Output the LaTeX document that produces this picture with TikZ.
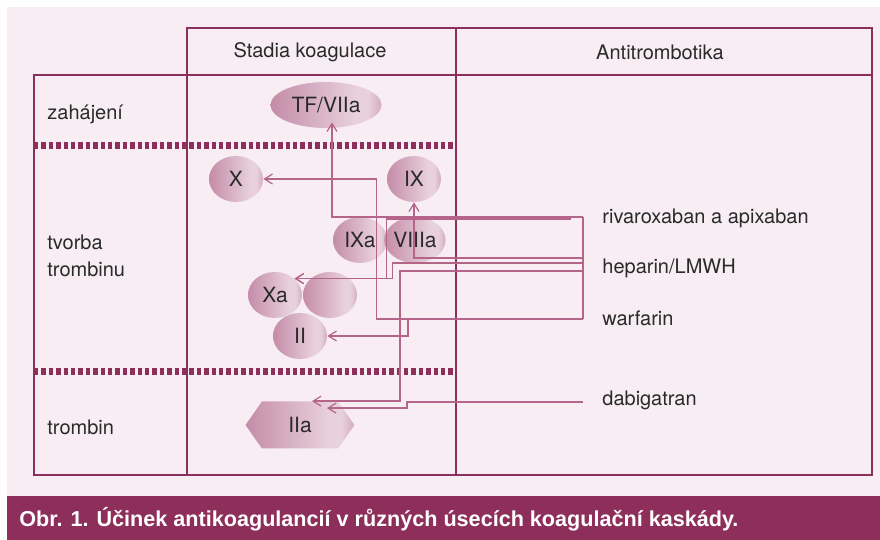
\documentclass[tikz,border=0pt]{standalone}
\usepackage{fontspec}
\setmainfont{TeX Gyre Heros}
\newfontfamily\capfont{Liberation Sans}
\usepackage{xcolor}
\usetikzlibrary{calc,shapes,positioning,arrows.meta}

\definecolor{panel}{HTML}{F7EDF3}
\definecolor{bar}{HTML}{8E2E5B}
\definecolor{frame}{HTML}{8B2F5C}
\definecolor{connc}{HTML}{B5658A}
\definecolor{ink}{HTML}{2A2A2A}
\definecolor{fdark}{HTML}{C48CA8}
\definecolor{flight}{HTML}{E8D0DC}
\definecolor{fedge}{HTML}{D4ABBF}
\pgfdeclarehorizontalshading{facshade}{100bp}{color(0bp)=(fdark); color(25bp)=(fdark); color(63bp)=(flight); color(69bp)=(flight); color(75bp)=(fedge); color(100bp)=(fedge)}

\tikzset{
  fac/.style={ellipse, shading=facshade, minimum width=27pt, minimum height=23pt, inner sep=0pt, text=ink, font=\fontsize{10.5}{12}\selectfont},
  lbl/.style={text=ink, font=\fontsize{10}{13.5}\selectfont, inner sep=0pt},
  grid/.style={draw=frame, line width=0.65pt},
  sep/.style={draw=bar, line width=3.5pt, dash pattern=on 2.2pt off 1.5pt},
  conn/.style={draw=connc, line width=0.6pt},
  arr/.style={conn, -{Straight Barb[length=4pt,width=5pt]}}
}

\begin{document}
\begin{tikzpicture}[x=0.5pt,y=-0.5pt]
\useasboundingbox (0,0) rectangle (880,540);
% background and caption bar
\fill[white] (0,0) rectangle (880,540);
\fill[panel] (7,7) rectangle (880,496);
\fill[bar] (7,496) rectangle (880,540);
\node[anchor=west, text=white, inner sep=0pt, font=\capfont\bfseries\fontsize{10.8}{13}\selectfont] (cap) at (19,519) {Obr. 1. Účinek antikoagulancií v různých úsecích koagulační kaskády.};

% table
\draw[grid] (187,475) -- (187,28) -- (872,28) -- (872,475) -- (34,475) -- (34,75) -- (872,75);
\draw[grid] (456,28) -- (456,475);
\draw[sep] (34,146) -- (456,146);
\draw[sep] (34,372) -- (456,372);

\node[lbl] (hstad) at (310,52) {Stadia koagulace};
\node[lbl] (hanti) at (660,52) {Antitrombotika};
\node[lbl, anchor=west] (rzah) at (47,114) {zahájení};
\node[lbl, anchor=west, align=left] (rtvo) at (47,256) {tvorba\\trombinu};
\node[lbl, anchor=west] (rtro) at (47,427) {trombin};

% factors
\node[fac, minimum width=55.5pt] (tf) at (326,105) {TF/VIIa};
\node[fac] (x) at (236,179) {X};
\node[fac] (ix) at (414,179) {IX};
\node[fac] (ixa) at (360,240) {IXa};
\node[fac] (viiia) at (415,240) {VIIIa};
\node[fac] (blank) at (330,295) {};
\node[fac] (xa) at (275,295) {Xa};
\node[fac] (ii) at (300,336) {II};
\node[fac, signal, signal to=west and east, signal pointer angle=110, minimum width=54.5pt, minimum height=23.5pt] (iia) at (300,425) {IIa};

% drugs
\node[lbl, anchor=west] (riva) at (602,218) {rivaroxaban a apixaban};
\node[lbl, anchor=west] (hep) at (602,268) {heparin/LMWH};
\node[lbl, anchor=west] (warf) at (602,318) {warfarin};
\node[lbl, anchor=west] (dab) at (602,400) {dabigatran};

\coordinate (wA) at (583,217);
\coordinate (wB) at (583,258);
\coordinate (wD) at (583,319);
\coordinate (wII) at (408,319);
\coordinate (rA) at (571,219);
\coordinate (hA) at (583,263);
\coordinate (hB) at (583,271);
\coordinate (dA) at (583,402);

% warfarin
\draw[conn] (wA) -- (wD);
\draw[arr] (wA) -| ($(tf.south)+(6,-6)$);
\draw[arr] (wB) -| (ix.south);
\draw[arr] (wD) -| ($(x.east)+(113,0)$) -- (x.east);
\draw[arr] (wII) |- (ii.east);
% rivaroxaban, heparin
\draw[arr] (rA) -| ($(xa.40)+(92,0)$) -- (xa.40);
\draw[arr] (hA) -| ($(xa.40)+(98,0)$) -- (xa.40);
\draw[arr] (hB) -| ($(iia.north)+(100,0)$) -- ($(iia.north)+(12,0)$);
% dabigatran
\draw[arr] (dA) -- ($(dA)+(-176,0)$) |- ($(iia.north)+(27,7)$);
\end{tikzpicture}
\end{document}
